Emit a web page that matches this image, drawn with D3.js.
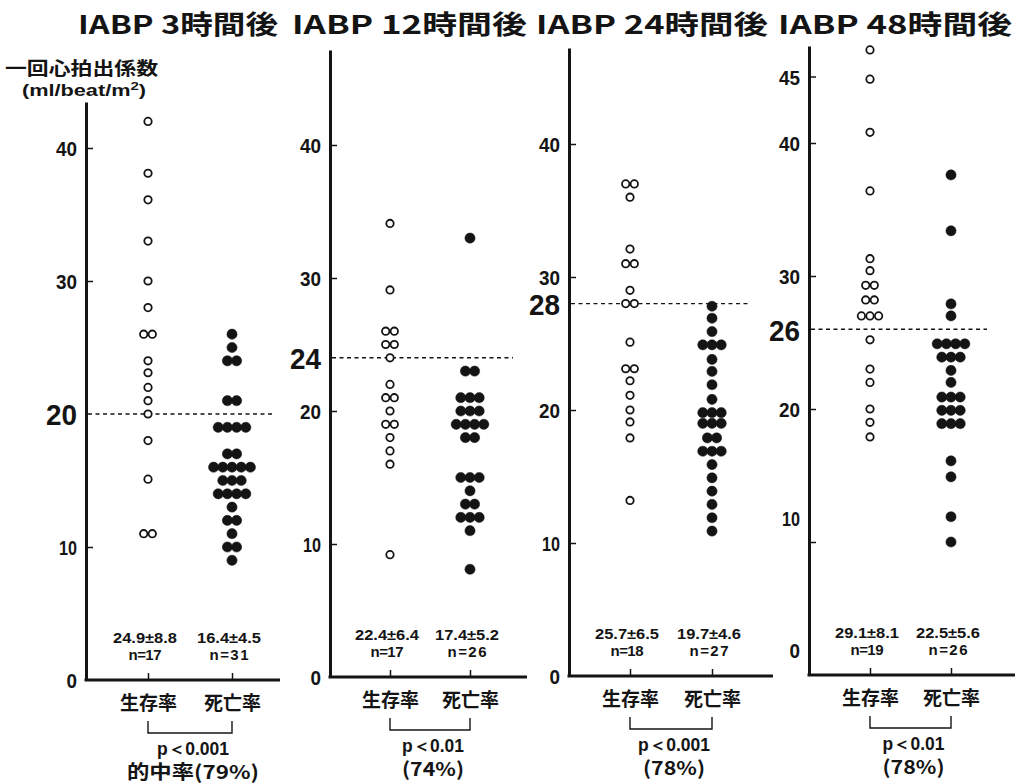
<!DOCTYPE html>
<html><head><meta charset="utf-8">
<script src="https://cdn.jsdelivr.net/npm/d3@7/dist/d3.min.js"></script>
<style>
html,body{margin:0;padding:0;background:#fff;}
svg{display:block;}
.num{font-family:"Liberation Sans Narrow","Liberation Sans",Arial,sans-serif;font-weight:bold;}
.jp{font-family:"Noto Sans CJK JP","Noto Sans CJK SC",sans-serif;font-weight:bold;}
</style></head>
<body>
<script>
// ---------- data ----------
const categories = ["生存率", "死亡率"];
const titles = ["IABP 3時間後", "IABP 12時間後", "IABP 24時間後", "IABP 48時間後"];
const cutoffs = [20, 24, 28, 26];
const tickSets = [[0,10,20,30,40],[0,10,20,24,30,40],[0,10,20,28,30,40],[0,10,20,26,30,40,45]];

const survive3h = [42, 38.1, 36.1, 33, 30, 28, 26, 26, 24, 23.1, 22, 21, 20, 18, 15.1, 11, 11];
const death3h = [26, 25, 24, 24, 21, 21, 19, 19, 19, 19, 17, 17, 16, 16, 16, 16, 16, 15, 15, 15, 14, 14, 14, 14, 13, 12, 12, 11, 10, 10, 9];
const survive12h = [34.1, 29.1, 26, 26, 25, 25, 24, 22, 21, 21, 20, 19, 19, 18, 17, 16, 9.2];
const death12h = [33, 23, 23, 21, 21, 21, 20, 20, 20, 19, 19, 19, 19, 18, 18, 15, 15, 15, 14, 13, 13, 12, 12, 12, 11, 8.1];
const survive24h = [37, 37, 36, 32.1, 31, 31, 29, 28, 28, 25.1, 23.1, 23.1, 22.2, 21.1, 20, 19.1, 17.9, 13.2];
const death24h = [27.8, 26.9, 25.9, 24.9, 24.9, 24.9, 23.8, 22.9, 21.9, 20.8, 19.8, 19.8, 19.8, 19, 19, 19, 17.9, 17.9, 16.9, 16.9, 16.9, 15.9, 14.9, 13.9, 12.9, 11.9, 10.9];
const survive48h = [47, 44.8, 40.8, 36.4, 31.3, 30.4, 29.3, 29.3, 28.2, 28.2, 27, 27, 27, 25.2, 23, 22, 20, 19, 17.9];
const death48h = [37.6, 33.4, 27.9, 27, 24.9, 24.9, 24.9, 24.9, 23.9, 23.9, 23.9, 22.9, 22, 20.9, 20.9, 20.9, 19.9, 19.9, 19.9, 18.9, 18.9, 18.9, 16.1, 14.9, 11.9, 10];

const statsSurvive = ["24.9±8.8", "22.4±6.4", "25.7±6.5", "29.1±8.1"];
const statsDeath = ["16.4±4.5", "17.4±5.2", "19.7±4.6", "22.5±5.6"];
const nSurvive = [17, 17, 18, 19];
const nDeath = [31, 26, 27, 26];
const pTexts = ["p＜0.001", "p＜0.01", "p＜0.001", "p＜0.01"];
const rateTexts = ["的中率(79%)", "(74%)", "(78%)", "(78%)"];

const seriesData = [[survive3h, death3h],[survive12h, death12h],[survive24h, death24h],[survive48h, death48h]];

// ---------- layout ----------
const W = 1019, H = 784, PX = 13.3;
const layouts = [
  {ax: 86,  top: 102, y0: 680, xEnd: 280,  c: [148, 232], dashEnd: 273, tl: [78, 278]},
  {ax: 330, top: 50,  y0: 677, xEnd: 527,  c: [390, 470], dashEnd: 513, tl: [292, 527]},
  {ax: 569, top: 48,  y0: 676, xEnd: 773,  c: [630, 712], dashEnd: 750, tl: [536, 768]},
  {ax: 809, top: 46,  y0: 675, xEnd: 1015, c: [870, 951], dashEnd: 987, tl: [778, 1012], shift: {0: -25, 10: -24}}
];
const INK = "#141414";
const digitW = s => s.split("").reduce((a, ch) => a + (ch === "1" ? 7.5 : 10.5), 0);

const svg = d3.select("body").append("svg").attr("width", W).attr("height", H);

// y-axis title
svg.append("text").attr("class","jp").attr("x",5).attr("y",75)
  .attr("font-size",18).attr("fill",INK)
  .attr("textLength",153).attr("lengthAdjust","spacingAndGlyphs")
  .text("一回心拍出係数");
const unit = svg.append("text").attr("class","num").attr("x",22).attr("y",96)
  .attr("font-size",16).attr("fill",INK)
  .attr("textLength",124).attr("lengthAdjust","spacingAndGlyphs");
unit.append("tspan").text("(ml/beat/m");
unit.append("tspan").attr("dy",-6).attr("font-size",11).text("2");
unit.append("tspan").attr("dy",6).text(")");

layouts.forEach((L, i) => {
  const g = svg.append("g");
  const vTop = (L.y0 - L.top) / PX;
  const y = d3.scaleLinear().domain([0, vTop]).range([L.y0, L.top]);
  const x = d3.scalePoint().domain(categories).range(L.c);

  // title
  g.append("text").attr("class","jp").attr("x",L.tl[0]).attr("y",34)
    .attr("font-size",26).attr("fill",INK)
    .attr("textLength",L.tl[1]-L.tl[0]).attr("lengthAdjust","spacingAndGlyphs")
    .text(titles[i]);

  // y axis
  const yAxis = d3.axisLeft(y).tickValues(tickSets[i]).tickSizeInner(-7).tickSizeOuter(0).tickPadding(9)
    .tickFormat(d3.format("d"));
  const ya = g.append("g").attr("transform",`translate(${L.ax},0)`).call(yAxis);
  ya.select(".domain").attr("stroke",INK).attr("stroke-width",3);
  ya.selectAll(".tick line").attr("stroke",INK).attr("stroke-width",1.5)
    .attr("display", d => (d === 0 || d === cutoffs[i]) ? "none" : null);
  ya.selectAll(".tick text").attr("class","num").attr("fill",INK)
    .attr("font-size", d => d === cutoffs[i] ? 30 : 21)
    .attr("dy", "0.36em")
    .attr("textLength", d => d === cutoffs[i] ? 31 : digitW(String(d)))
    .attr("lengthAdjust","spacingAndGlyphs")
    .attr("transform", d => (L.shift && L.shift[d] !== undefined) ? `translate(0,${L.shift[d]})` : null);

  // x axis
  g.append("line").attr("x1",L.ax-1.5).attr("x2",L.xEnd).attr("y1",L.y0).attr("y2",L.y0)
    .attr("stroke",INK).attr("stroke-width",3);
  const xAxis = d3.axisBottom(x).tickSizeInner(-7).tickSizeOuter(0).tickPadding(17);
  const xa = g.append("g").attr("transform",`translate(0,${L.y0})`).call(xAxis);
  xa.select(".domain").remove();
  xa.selectAll(".tick line").attr("stroke",INK).attr("stroke-width",1.5);
  xa.selectAll(".tick text").attr("class","jp").attr("font-size",19).attr("fill",INK);

  // cutoff dashed line
  g.append("line").attr("x1",L.ax+2).attr("x2",L.dashEnd)
    .attr("y1",y(cutoffs[i])).attr("y2",y(cutoffs[i]))
    .attr("stroke",INK).attr("stroke-width",1.4).attr("stroke-dasharray","4,3.5");

  // dots
  seriesData[i].forEach((vals, k) => {
    const cat = categories[k];
    const open = k === 0;
    const sp = open ? 8.6 : 9.2;
    const groups = d3.groups(vals, v => v);
    const pts = [];
    groups.forEach(([v, arr]) => {
      arr.forEach((_, j) => pts.push({v, off: (j - (arr.length - 1) / 2) * sp}));
    });
    g.selectAll(null).data(pts).join("circle")
      .attr("cx", d => x(cat) + d.off)
      .attr("cy", d => y(d.v))
      .attr("r", open ? 3.7 : 5.1)
      .attr("fill", open ? "#fff" : INK)
      .attr("stroke", INK)
      .attr("stroke-width", open ? 1.8 : 0.5);
  });

  // stats
  const statsG = g.append("g").attr("class","num").attr("fill",INK).attr("font-size",14).attr("text-anchor","middle");
  [[statsSurvive[i], nSurvive[i]], [statsDeath[i], nDeath[i]]].forEach(([s, n], k) => {
    const cx = x(categories[k]) - 3;
    statsG.append("text").attr("x",cx).attr("y",L.y0-37)
      .attr("textLength",64).attr("lengthAdjust","spacingAndGlyphs").text(s);
    statsG.append("text").attr("x",cx).attr("y",L.y0-20).attr("font-size",15)
      .attr("textLength", String(n).startsWith("1") ? 33 : 39).attr("lengthAdjust","spacing")
      .text("n=" + n);
  });

  // bracket
  const by1 = L.y0 + 41, by2 = L.y0 + 53;
  g.append("path")
    .attr("d", `M${x(categories[0])},${by1}V${by2}H${x(categories[1])}V${by1}`)
    .attr("fill","none").attr("stroke",INK).attr("stroke-width",1.4);

  const mid = (x(categories[0]) + x(categories[1])) / 2 + 3;
  g.append("text").attr("class","num").attr("x",mid).attr("y",L.y0+75)
    .attr("text-anchor","middle").attr("font-size",18).attr("fill",INK)
    .attr("textLength", pTexts[i].length > 6 ? 72 : 62).attr("lengthAdjust","spacingAndGlyphs")
    .text(pTexts[i]);
  g.append("text").attr("class","jp").attr("x",mid).attr("y",Math.min(L.y0+99, 779))
    .attr("text-anchor","middle").attr("font-size",19).attr("fill",INK)
    .attr("textLength", rateTexts[i].length > 5 ? 132 : 62).attr("lengthAdjust","spacingAndGlyphs")
    .text(rateTexts[i]);
});
</script>
</body></html>
